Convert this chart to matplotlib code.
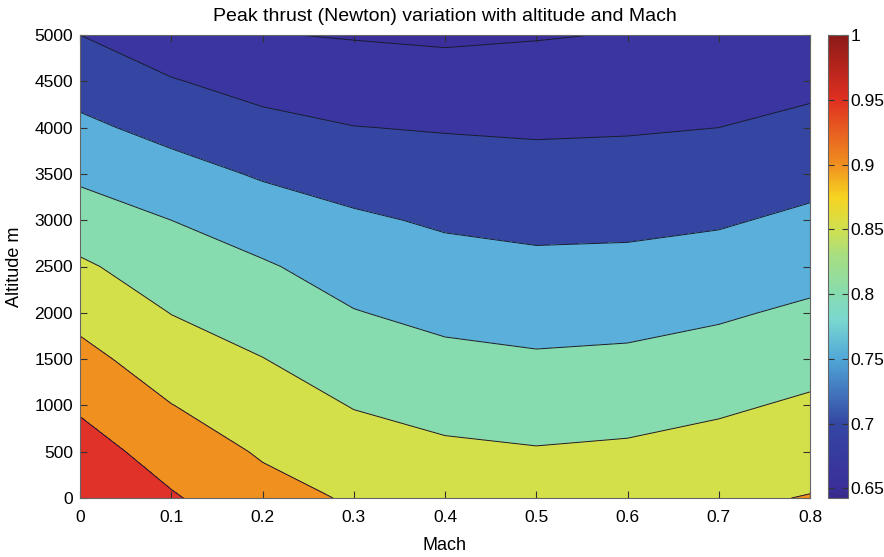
import numpy as np
import matplotlib
matplotlib.use("Agg")
import matplotlib.pyplot as plt
from matplotlib.colors import LinearSegmentedColormap, Normalize
from matplotlib.cm import ScalarMappable

plt.rcParams['font.family'] = ['Liberation Sans', 'DejaVu Sans']

# Mach number (columns) and altitude in metres (rows)
mach = [0.0, 0.1, 0.2, 0.3, 0.4, 0.5, 0.6, 0.7, 0.8]
altitude = [0, 500, 1000, 1500, 2000, 2500, 3000, 3500, 4000, 4500, 5000]

# normalised peak thrust, one list per Mach number, from 0 m up to 5000 m
thrust_m00 = [1.000, 0.972, 0.943, 0.914, 0.886, 0.857, 0.824, 0.791, 0.760, 0.730, 0.700]
thrust_m01 = [0.955, 0.928, 0.901, 0.875, 0.849, 0.825, 0.800, 0.768, 0.735, 0.703, 0.670]
thrust_m02 = [0.917, 0.895, 0.873, 0.851, 0.828, 0.805, 0.776, 0.745, 0.714, 0.683, 0.652]
thrust_m03 = [0.895, 0.870, 0.848, 0.825, 0.802, 0.780, 0.757, 0.730, 0.701, 0.674, 0.647]
thrust_m04 = [0.882, 0.858, 0.835, 0.811, 0.788, 0.766, 0.744, 0.721, 0.697, 0.670, 0.6425]
thrust_m05 = [0.877, 0.853, 0.829, 0.805, 0.782, 0.760, 0.738, 0.717, 0.694, 0.671, 0.647]
thrust_m06 = [0.881, 0.857, 0.833, 0.808, 0.785, 0.762, 0.739, 0.718, 0.696, 0.673, 0.652]
thrust_m07 = [0.892, 0.867, 0.843, 0.818, 0.794, 0.769, 0.745, 0.722, 0.700, 0.677, 0.654]
thrust_m08 = [0.902, 0.880, 0.857, 0.833, 0.808, 0.783, 0.759, 0.735, 0.712, 0.689, 0.666]

levels = [0.6425, 0.65, 0.70, 0.75, 0.80, 0.85, 0.90, 0.95, 1.0]
fill_colors = ['#3b2f9c', '#3a35a0', '#3546a2', '#5ab0da', '#86dcae',
               '#d4e04a', '#f0901e', '#e03228']

Z = np.array([thrust_m00, thrust_m01, thrust_m02, thrust_m03, thrust_m04,
              thrust_m05, thrust_m06, thrust_m07, thrust_m08]).T
M, H = np.meshgrid(mach, altitude)

fig = plt.figure(figsize=(8.84, 5.57), dpi=100)
ax = fig.add_axes([80/884, 1 - 498/557, 730/884, 463/557])

ax.contourf(M, H, Z, levels=levels, colors=fill_colors)
ax.contour(M, H, Z, levels=levels[1:-1], colors='#1a1a30', linewidths=0.7)

ax.set_xlim(0, 0.8)
ax.set_ylim(0, 5000)
ax.set_xticks(np.arange(0, 0.81, 0.1))
ax.set_xticklabels(['0', '0.1', '0.2', '0.3', '0.4', '0.5', '0.6', '0.7', '0.8'])
ax.set_yticks(np.arange(0, 5001, 500))
ax.tick_params(direction='in', top=True, right=True, length=5, width=0.8,
               labelsize=12.5, color='#333333')
ax.tick_params(axis='x', pad=9)
ax.tick_params(axis='y', pad=5)
for s in ax.spines.values():
    s.set_color('#666666')
    s.set_linewidth(0.8)

ax.set_title('Peak thrust (Newton) variation with altitude and Mach', fontsize=14, pad=10)
ax.set_xlabel('Mach', fontsize=13, labelpad=8)
ax.set_ylabel('Altitude m', fontsize=13, labelpad=8)

# continuous colour scale
cmap = LinearSegmentedColormap.from_list('thrust', [
    (0.0, '#382a8a'),
    ((0.65 - 0.6425) / 0.3575, '#3a2f99'),
    ((0.70 - 0.6425) / 0.3575, '#3447a3'),
    ((0.75 - 0.6425) / 0.3575, '#50a8d8'),
    ((0.78 - 0.6425) / 0.3575, '#7ad8d0'),
    ((0.80 - 0.6425) / 0.3575, '#86dcb0'),
    ((0.83 - 0.6425) / 0.3575, '#a8de80'),
    ((0.85 - 0.6425) / 0.3575, '#d0e050'),
    ((0.875 - 0.6425) / 0.3575, '#f6d420'),
    ((0.90 - 0.6425) / 0.3575, '#f09020'),
    ((0.95 - 0.6425) / 0.3575, '#e03020'),
    (1.0, '#8c1a18'),
])
cax = fig.add_axes([828/884, 1 - 498/557, 20/884, 463/557])
sm = ScalarMappable(norm=Normalize(0.6425, 1.0), cmap=cmap)
cb = fig.colorbar(sm, cax=cax, ticks=[0.65, 0.7, 0.75, 0.8, 0.85, 0.9, 0.95, 1])
cb.ax.set_yticklabels(['0.65', '0.7', '0.75', '0.8', '0.85', '0.9', '0.95', '1'])
cb.ax.tick_params(direction='in', left=True, right=True, length=4, width=0.8,
                  labelsize=12.5, pad=2, color='#333333')
cb.outline.set_edgecolor('#666666')
cb.outline.set_linewidth(0.8)

fig.savefig('out.png', dpi=100)
